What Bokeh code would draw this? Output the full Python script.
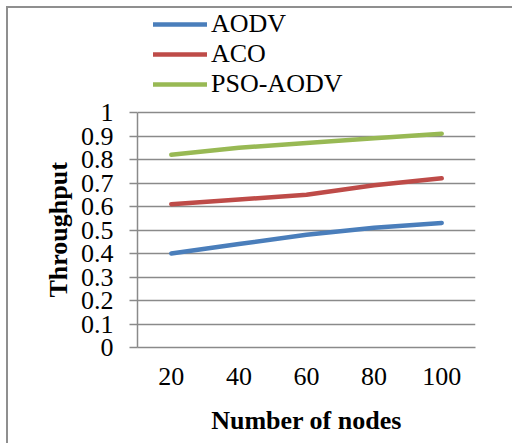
from bokeh.plotting import figure
from bokeh.models import FactorRange, Range1d, FixedTicker, CustomJSTickFormatter, Legend, LegendItem, Title
from bokeh.embed import file_html
from bokeh.resources import INLINE

nodes = ["20", "40", "60", "80", "100"]
aodv = [0.40, 0.44, 0.48, 0.51, 0.53]
aco = [0.61, 0.63, 0.65, 0.69, 0.72]
pso_aodv = [0.82, 0.85, 0.87, 0.89, 0.91]
series_names = ["AODV", "ACO", "PSO-AODV"]
y_ticks = [0, 0.1, 0.2, 0.3, 0.4, 0.5, 0.6, 0.7, 0.8, 0.9, 1.0]

colors = ["#4A7EBB", "#BE4B48", "#98B954"]
FONT = "Liberation Serif"
GRAY = "#8a8a8a"

# frame: 339 px tall (top of canvas to y=0), 235 px per unit -> headroom for the legend
p = figure(width=506, height=437, output_backend="svg", toolbar_location=None,
           x_range=FactorRange(factors=nodes, range_padding=0),
           y_range=Range1d(0, 339 / 235),
           min_border_left=129, min_border_right=39, min_border_top=0, min_border_bottom=98)
p.styles = {"margin-left": "6px", "margin-top": "6px",
            "border-left": "2px solid #8f8f8f", "border-top": "2px solid #8f8f8f"}
p.outline_line_color = None
p.background_fill_color = "white"
p.border_fill_color = "white"

renderers = []
for vals, c in zip([aodv, aco, pso_aodv], colors):
    r = p.line(nodes, vals, line_color=c, line_width=4.5, line_cap="round", line_join="round")
    renderers.append(r)

p.xgrid.grid_line_color = None
p.ygrid.grid_line_color = GRAY
p.ygrid.grid_line_width = 1.5
p.yaxis.ticker = FixedTicker(ticks=y_ticks)
p.yaxis.bounds = (0, 1)
p.yaxis.formatter = CustomJSTickFormatter(code="return tick.toFixed(1).replace(/\\.0$/, '');")

for ax in [p.xaxis[0], p.yaxis[0]]:
    ax.axis_line_color = GRAY
    ax.axis_line_width = 1.5
    ax.major_label_text_font = FONT
    ax.major_label_text_font_size = "26px"
    ax.major_label_text_color = "black"
    ax.axis_label_text_font = FONT
    ax.axis_label_text_font_size = "26px"
    ax.axis_label_text_font_style = "bold"
    ax.axis_label_text_color = "black"
    ax.minor_tick_line_color = None

p.yaxis.major_tick_line_color = GRAY
p.yaxis.major_tick_line_width = 1.5
p.yaxis.major_tick_out = 8
p.yaxis.major_tick_in = 0
p.yaxis.major_label_standoff = 16

p.xaxis.major_tick_line_color = None
p.xaxis.major_tick_out = 0
p.xaxis.major_tick_in = 0
p.xaxis.major_label_standoff = 20
p.xaxis.axis_label = "Number of nodes"
p.xaxis.axis_label_standoff = 18

ytitle = Title(text="Throughput", align="left", offset=45, standoff=0, padding=5,
               text_font=FONT, text_font_size="26px", text_font_style="bold", text_color="black")
p.add_layout(ytitle, "left")

legend = Legend(items=[LegendItem(label=n, renderers=[r]) for n, r in zip(series_names, renderers)],
                location=(16, 248), orientation="vertical")
legend.label_text_font = FONT
legend.label_text_font_size = "26px"
legend.label_text_color = "black"
legend.glyph_width = 54
legend.glyph_height = 28
legend.label_height = 28
legend.label_standoff = 4
legend.spacing = 0
legend.padding = 0
legend.margin = 0
legend.border_line_color = None
legend.background_fill_alpha = 0
p.add_layout(legend, "center")

open("out.html", "w").write(file_html(p, INLINE))
